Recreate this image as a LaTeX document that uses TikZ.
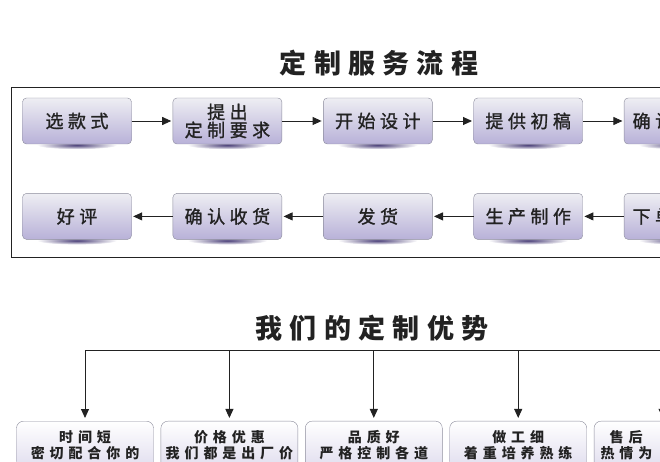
\documentclass[tikz,border=0pt]{standalone}
\usepackage{fontspec}
\newfontfamily\cjk{Noto Sans CJK SC}
\usetikzlibrary{arrows.meta,positioning,backgrounds}
\definecolor{boxtop}{HTML}{EEEEF3}
\definecolor{boxlow}{HTML}{B8B1D8}
\definecolor{boxline}{HTML}{8C8C9C}
\definecolor{shadowc}{HTML}{4A3F78}
\definecolor{ink}{HTML}{222222}
\newcommand{\cutline}[1]{\makebox[124pt][l]{#1}}
\tikzset{stepbox/.style={draw=boxline,rounded corners=4pt,top color=boxtop,bottom color=boxlow,minimum width=109pt,minimum height=46pt,inner ysep=2pt,align=center,text=ink,font=\cjk\addfontfeature{LetterSpace=25,FakeBold=1.3}\fontsize{18}{18}\selectfont},cutbox/.style={stepbox,text width=92pt,align=left},advbox/.style={draw=boxline,rounded corners=7pt,top color=white,bottom color=boxlow!70,minimum width=137pt,inner ysep=9pt,text depth=30pt,align=center,text=ink,font=\cjk\bfseries\addfontfeature{LetterSpace=35}\fontsize{14}{16.5}\selectfont},headline/.style={text=ink,font=\cjk\bfseries\addfontfeature{LetterSpace=27}\fontsize{27}{30}\selectfont},flow/.style={-{Triangle[length=9pt,width=8pt]},line width=0.9pt,draw=ink,shorten >=1.5pt},bar/.style={line width=0.9pt,draw=ink}}

\begin{document}
\begin{tikzpicture}[x=1pt,y=-1pt,node distance=41pt and 41pt]
\useasboundingbox (0,0) rectangle (660,462);
\clip (0,0) rectangle (660,462);
% customisation flow
\node[headline] (title1) at (379,63) {定制服务流程};
\draw[bar] (11,87) rectangle (700,257);
\node[stepbox] (xuan) at (77,121) {选款式};
\node[stepbox,right=of xuan] (tichu) {提出\\定制要求};
\node[stepbox,right=of tichu] (kaishi) {开始设计};
\node[stepbox,right=of kaishi] (chugao) {提供初稿};
\node[cutbox,right=of chugao] (queren) {确认};
\node[cutbox,below=49pt of queren] (xiadan) {下单};
\node[stepbox,below=49pt of chugao] (shengchan) {生产制作};
\node[stepbox,below=49pt of kaishi] (fahuo) {发货};
\node[stepbox,below=49pt of tichu] (shouhuo) {确认收货};
\node[stepbox,below=49pt of xuan] (haoping) {好评};
\draw[flow] (xuan) -- (tichu);\draw[flow] (tichu) -- (kaishi);\draw[flow] (kaishi) -- (chugao);\draw[flow] (chugao) -- (queren);
\draw[flow] (xiadan) -- (shengchan);\draw[flow] (shengchan) -- (fahuo);\draw[flow] (fahuo) -- (shouhuo);\draw[flow] (shouhuo) -- (haoping);
\begin{scope}[on background layer]
\foreach \n in {xuan,tichu,kaishi,chugao,queren,xiadan,shengchan,fahuo,shouhuo,haoping}
  \shade[inner color=shadowc,outer color=white] ([yshift=-1pt]\n.south) ellipse [x radius=40pt,y radius=4pt];
\end{scope}
% advantages
\node[headline] (title2) at (372,328) {我们的定制优势};
\node[advbox,anchor=north] (shijian) at (85,421) {时间短\\密切配合你的};
\node[advbox,right=7pt of shijian] (jiage) {价格优惠\\我们都是出厂价};
\node[advbox,right=7pt of jiage] (pinzhi) {品质好\\严格控制各道};
\node[advbox,right=7pt of pinzhi] (zuogong) {做工细\\着重培养熟练};
\node[advbox,right=7pt of zuogong] (shouhou) {\cutline{\hspace*{9pt}售后}\\\cutline{热情为}};
\coordinate (barR) at (700,350);
\draw[bar] (shijian.north |- barR) -- (barR);
\foreach \n in {shijian,jiage,pinzhi,zuogong,shouhou}
  \draw[flow,shorten >=3pt] (\n.north |- barR) -- (\n.north);
\end{tikzpicture}
\end{document}
